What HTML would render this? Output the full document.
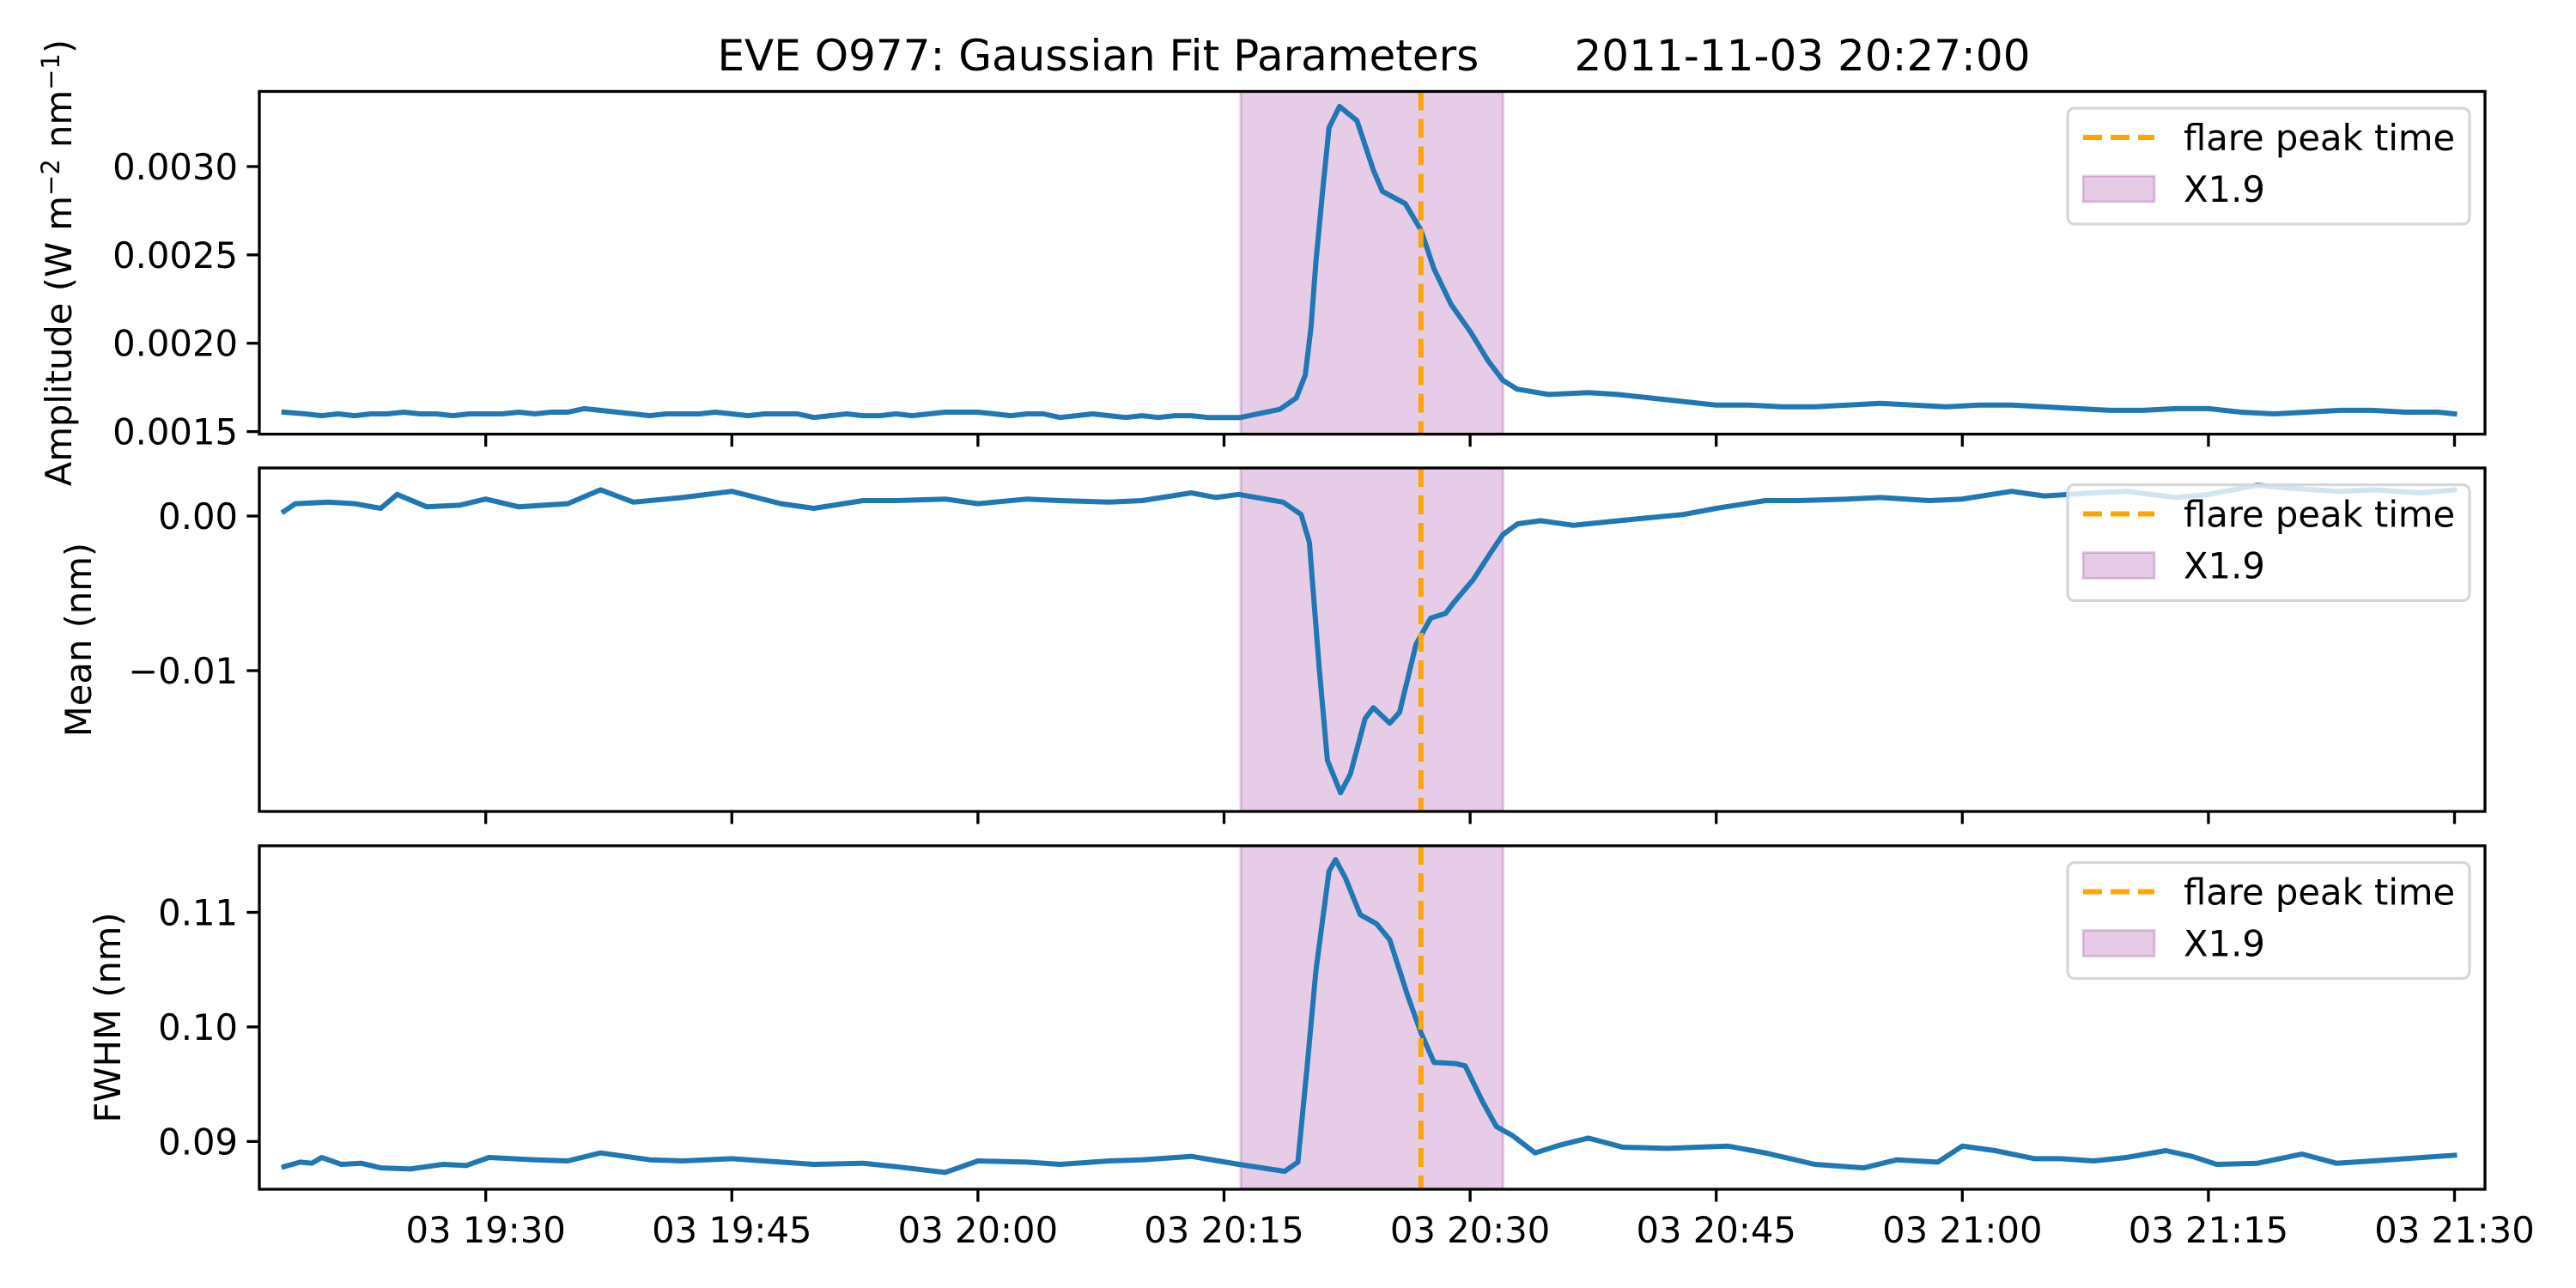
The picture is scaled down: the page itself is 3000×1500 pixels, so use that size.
<!DOCTYPE html>
<html><head><meta charset="utf-8">
<style>
html,body{margin:0;padding:0;background:#fff;}
svg{display:block;font-family:"DejaVu Sans","Liberation Sans",sans-serif;}
</style></head>
<body>
<svg id="chart" width="3000" height="1500" viewBox="0 0 3000 1500" xmlns="http://www.w3.org/2000/svg">
<rect width="3000" height="1500" fill="#fff"/>
<text x="1600" y="82" font-size="50" text-anchor="middle" style="white-space:pre" xml:space="preserve">EVE O977: Gaussian Fit Parameters       2011-11-03 20:27:00</text>
</svg>
<script>
// time in minutes since 19:00
const xTickMinutes = [30,45,60,75,90,105,120,135,150];
const xTickLabels = ["03 19:30","03 19:45","03 20:00","03 20:15","03 20:30","03 20:45","03 21:00","03 21:15","03 21:30"];
const flareStart = 76.02, flareEnd = 92.0, flarePeak = 87.0;
const flareLabel = "X1.9";

const ampTimes = [17.7,19,20,21,22,23,24,25,26,27,28,29,30,31,32,33,34,35,36,37,38,39,40,41,42,43,44,45,46,47,48,49,50,51,52,53,54,55,56,57,58,59,60,61,62,63,64,65,66,67,68,69,70,71,72,73,74,75,76,78.4,79.4,79.95,80.3,80.6,81.0,81.4,82.04,83.1,84.1,84.65,86.05,87.0,87.8,88.84,90.05,91.1,92,92.86,94.8,97.2,99,101,103,105,107,109,111,113,115,117,119,121,123,125,127,129,131,133,135,137,139,141,143,145,147,149,150];
const ampValues = [0.00161,0.00160,0.00159,0.00160,0.00159,0.00160,0.00160,0.00161,0.00160,0.00160,0.00159,0.00160,0.00160,0.00160,0.00161,0.00160,0.00161,0.00161,0.00163,0.00162,0.00161,0.00160,0.00159,0.00160,0.00160,0.00160,0.00161,0.00160,0.00159,0.00160,0.00160,0.00160,0.00158,0.00159,0.00160,0.00159,0.00159,0.00160,0.00159,0.00160,0.00161,0.00161,0.00161,0.00160,0.00159,0.00160,0.00160,0.00158,0.00159,0.00160,0.00159,0.00158,0.00159,0.00158,0.00159,0.00159,0.00158,0.00158,0.00158,0.001626,0.00169,0.00182,0.00209,0.00246,0.00285,0.00322,0.00334,0.00326,0.00298,0.00286,0.00279,0.00264,0.00242,0.00222,0.00206,0.00190,0.00179,0.00174,0.00171,0.00172,0.00171,0.00169,0.00167,0.00165,0.00165,0.00164,0.00164,0.00165,0.00166,0.00165,0.00164,0.00165,0.00165,0.00164,0.00163,0.00162,0.00162,0.00163,0.00163,0.00161,0.00160,0.00161,0.00162,0.00162,0.00161,0.00161,0.00160];

const meanTimes = [17.7,18.4,20.4,22,23.6,24.6,26.4,28.4,30,32,35,37,39,42,45,48,50,53,55,58,60,63,65,68,70,73,74.5,75.9,78.6,79.7,80.2,80.8,81.3,82.1,82.7,83.6,84.1,85.1,85.7,86.7,87.6,88.5,89.0,90.2,91.3,92,92.9,94.3,96.3,97.2,100,103,105,108,110,113,115,118,120,123,125,128,130,133,135,138,140,143,145,148,150];
const meanValues = [0.0003,0.0008,0.0009,0.0008,0.0005,0.0014,0.0006,0.0007,0.0011,0.0006,0.0008,0.0017,0.0009,0.0012,0.0016,0.0008,0.0005,0.0010,0.0010,0.0011,0.0008,0.0011,0.0010,0.0009,0.0010,0.0015,0.0012,0.0014,0.0009,0.0001,-0.0017,-0.0098,-0.0158,-0.0179,-0.0167,-0.0131,-0.0124,-0.0134,-0.0127,-0.0083,-0.0066,-0.0063,-0.0056,-0.0041,-0.0023,-0.0012,-0.0005,-0.0003,-0.0006,-0.0005,-0.0002,0.0001,0.0005,0.0010,0.0010,0.0011,0.0012,0.0010,0.0011,0.0016,0.0013,0.0015,0.0016,0.0012,0.0014,0.0020,0.0018,0.0016,0.0017,0.0015,0.0017];

const fwhmTimes = [17.7,18.7,19.4,20,21.2,22.4,23.6,25.4,27.4,28.8,30.2,33,35,37,40,42,45,48,50,53,55,58,60,63,65,68,70,73,75.9,78.7,79.5,80.05,80.6,81.4,81.8,82.4,83.3,84.3,85.1,86.2,87.0,87.8,89.1,89.7,90.75,91.6,92.6,93.96,95.5,97.2,99.3,102,105.7,108,111,114,116,118.5,120,122,124.4,126,128,130,132.4,134,135.5,138,140.7,142.8,145,147,150];
const fwhmValues = [0.0878,0.0882,0.0881,0.0886,0.0880,0.0881,0.0877,0.0876,0.0880,0.0879,0.0886,0.0884,0.0883,0.0890,0.0884,0.0883,0.0885,0.0882,0.0880,0.0881,0.0878,0.0873,0.0883,0.0882,0.0880,0.0883,0.0884,0.0887,0.0880,0.0874,0.0882,0.0963,0.1049,0.1136,0.1146,0.1130,0.1098,0.1090,0.1076,0.1027,0.0995,0.0969,0.0968,0.0966,0.0935,0.0913,0.0905,0.0890,0.0897,0.0903,0.0895,0.0894,0.0896,0.0890,0.0880,0.0877,0.0884,0.0882,0.0896,0.0892,0.0885,0.0885,0.0883,0.0886,0.0892,0.0887,0.0880,0.0881,0.0889,0.0881,0.0883,0.0885,0.0888];

const panels = [
  {name:"amplitude", top:106.5, bottom:505.6, ymin:0.0014855, ymax:0.003425, ticks:[0.0015,0.0020,0.0025,0.0030], tickLabels:["0.0015","0.0020","0.0025","0.0030"], times:ampTimes, values:ampValues, labelX:83, label:'Amplitude (W m<tspan dy="-14" font-size="29">−2</tspan><tspan dy="14"> nm</tspan><tspan dy="-14" font-size="29">−1</tspan><tspan dy="14">)</tspan>'},
  {name:"mean", top:545, bottom:945, ymin:-0.01911, ymax:0.00311, ticks:[-0.01,0.0], tickLabels:["−0.01","0.00"], times:meanTimes, values:meanValues, labelX:106, label:"Mean (nm)"},
  {name:"fwhm", top:985, bottom:1385, ymin:0.08583, ymax:0.11581, ticks:[0.09,0.10,0.11], tickLabels:["0.09","0.10","0.11"], times:fwhmTimes, values:fwhmValues, labelX:140, label:"FWHM (nm)"}
];

const NS = "http://www.w3.org/2000/svg";
const svg = document.getElementById("chart");
const X0 = 302, X1 = 2894;
function xScale(t){ return 1425.5 + (t-75)*19.107; }
function mk(tag, attrs, parent){
  const e = document.createElementNS(NS, tag);
  for (const k in attrs) e.setAttribute(k, attrs[k]);
  (parent||svg).appendChild(e);
  return e;
}

panels.forEach((p, pi) => {
  const g = mk("g", {});
  
  
  const yScale = v => p.bottom - (v - p.ymin) / (p.ymax - p.ymin) * (p.bottom - p.top);

  const span = mk("rect", {x:xScale(flareStart), y:p.top, width:xScale(flareEnd)-xScale(flareStart), height:p.bottom-p.top, fill:"rgba(128,0,128,0.2)", stroke:"rgba(128,0,128,0.2)", "stroke-width":3}, g);
  
  

  let d = "";
  p.times.forEach((t,i) => { d += (i?"L":"M") + xScale(t).toFixed(1) + "," + yScale(p.values[i]).toFixed(1); });
  const line = mk("path", {d:d, fill:"none", stroke:"#1f77b4", "stroke-width":6, "stroke-linejoin":"round", "stroke-linecap":"square"}, g);
  
  

  const peak = mk("line", {x1:xScale(flarePeak), x2:xScale(flarePeak), y1:p.top, y2:p.bottom, stroke:"#ffa500", "stroke-width":6, "stroke-dasharray":"22,10"}, g);
  
  

  const frame = mk("rect", {x:X0, y:p.top, width:X1-X0, height:p.bottom-p.top, fill:"none", stroke:"#000", "stroke-width":3.3}, g);
  
  

  p.ticks.forEach((v,i) => {
    const y = yScale(v);
    const tk = mk("line", {x1:X0-14.6, x2:X0, y1:y, y2:y, stroke:"#000", "stroke-width":3.3}, g);
    
    
    const tl = mk("text", {x:X0-25, y:y+15, "font-size":41.7, "text-anchor":"end"}, g);
    
    
    tl.textContent = p.tickLabels[i];
  });

  xTickMinutes.forEach((t,i) => {
    const x = xScale(t);
    const tk = mk("line", {x1:x, x2:x, y1:p.bottom, y2:p.bottom+14.6, stroke:"#000", "stroke-width":3.3}, g);
    
    
    if (pi === 2) {
      const tl = mk("text", {x:x, y:p.bottom+62, "font-size":41.7, "text-anchor":"middle"}, g);
      
      
      tl.textContent = xTickLabels[i];
    }
  });

  const cy = (p.top+p.bottom)/2;
  const yl = mk("text", {x:p.labelX, y:cy, "font-size":41.7, "text-anchor":"middle", transform:"rotate(-90 "+p.labelX+" "+cy+")"}, g);
  
  
  yl.innerHTML = p.label;

  // legend
  const lg = mk("g", {}, g);
  
  
  const lt = p.top + 19.5;
  mk("rect", {x:2408, y:lt, width:468, height:135, rx:8, fill:"rgba(255,255,255,0.8)", stroke:"#d6d6d6", "stroke-width":3.3}, lg);
  const ls = mk("line", {x1:2426, x2:2509, y1:lt+34, y2:lt+34, stroke:"#ffa500", "stroke-width":6, "stroke-dasharray":"22,10"}, lg);
  
  
  const t1 = mk("text", {x:2543, y:lt+49, "font-size":41.7}, lg);
  
  
  t1.textContent = "flare peak time";
  const pr = mk("rect", {x:2426, y:lt+79, width:83, height:30, fill:"rgba(128,0,128,0.2)", stroke:"rgba(128,0,128,0.2)", "stroke-width":3}, lg);
  
  
  const t2 = mk("text", {x:2543, y:lt+109, "font-size":41.7}, lg);
  
  
  t2.textContent = flareLabel;
});
</script>
</body></html>
